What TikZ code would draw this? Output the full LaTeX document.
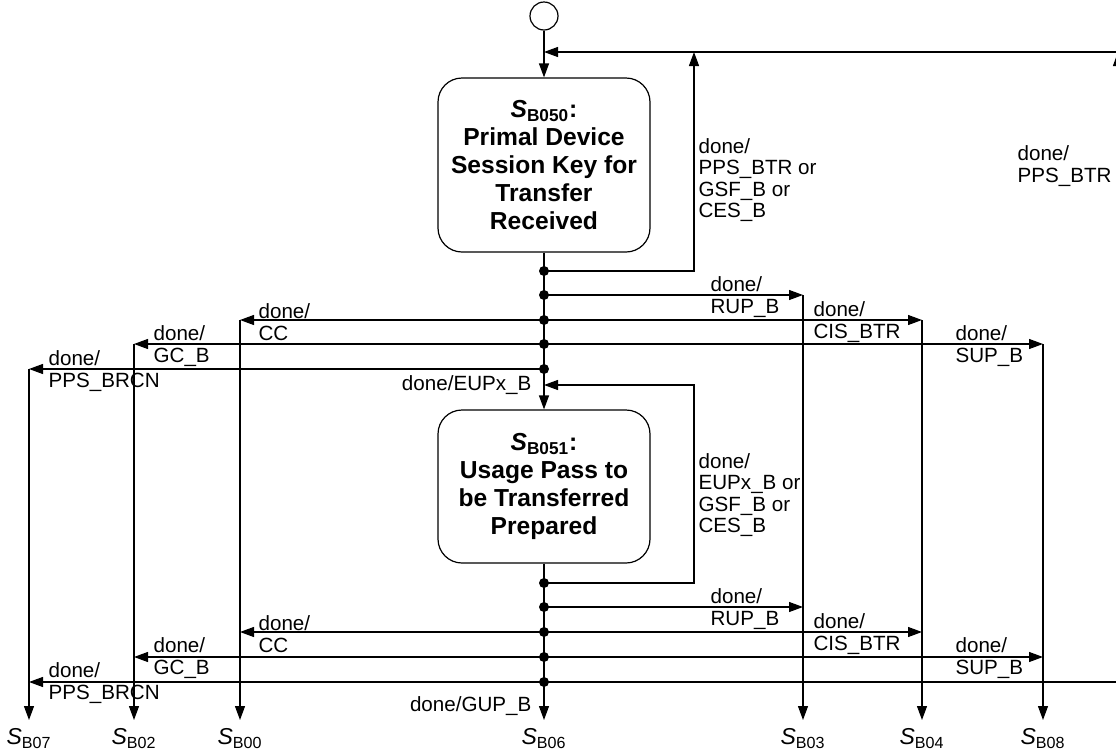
\documentclass[tikz,border=0pt]{standalone}
\usepackage{fontspec}
\setmainfont{Liberation Sans}
\usetikzlibrary{arrows.meta}

\newcommand{\sname}[1]{{\fontsize{11.5}{12}\selectfont\textit{S}\textsubscript{#1}}}

\begin{document}
\begin{tikzpicture}[x=0.5pt,y=-0.5pt,line width=0.6pt]
\tikzstyle{statebox}=[draw,rounded corners=12pt,minimum width=106pt,align=center,font=\fontsize{12.3}{14}\selectfont\bfseries]
\tikzstyle{lbl}=[align=left,inner sep=0pt,anchor=west,font=\fontsize{10.3}{10.8}\selectfont]
\tikzstyle{target}=[anchor=north,inner sep=4pt]
\tikzstyle{arr}=[-{Triangle[length=7pt,width=5pt]}]
\useasboundingbox (0,0) rectangle (1116,756);

% states
\node[draw,circle,minimum size=14pt,inner sep=0pt] (init) at (544,16) {};
\node[statebox,minimum height=87pt] (box1) at (544,165)
  {\textit{S}\textsubscript{B050}:\\Primal Device\\Session Key for\\Transfer\\Received};
\node[statebox,minimum height=76.5pt] (box2) at (544,486.5)
  {\textit{S}\textsubscript{B051}:\\Usage Pass to\\be Transferred\\Prepared};
\foreach \n/\x in {07/29,02/134,00/240,06/544,03/803,04/922,08/1043}
  \node[target] (s\n) at (\x,720) {\sname{B\n}};

% branch points
\foreach \n/\y in {u1/271,u2/295,u3/320,u4/344,u5/369,l0/583,l1/607,l2/632,l3/657,l4/682}
  \coordinate (\n) at (544,\y);
\coordinate (j1) at (544,52);
\coordinate (j2) at (544,385);
\coordinate (f1) at (694,52);
\coordinate (f2) at (694,385);
\coordinate (r1) at (1118,52);
\coordinate (c07) at (29,369);
\coordinate (c02) at (134,344);
\coordinate (c00) at (240,320);
\coordinate (c03) at (803,295);
\coordinate (c04) at (922,320);
\coordinate (c08) at (1043,344);

% main line
\draw[arr] (init) -- (box1);
\draw[arr] (box1) -- (box2);
\draw[arr] (box2) -- (s06);

% loops back
\draw[arr] (u1) -| (f1);
\draw[arr] (l0) -| (f2) -- (j2);
\draw[arr] (l4) -| (r1);
\draw[arr] (r1) -- (j1);

% exits of S_B050
\draw[arr] (u2) -- (c03);
\draw[arr] (u3) -- (c04);
\draw[arr] (u4) -- (c08);
\draw[arr] (u3) -- (c00);
\draw[arr] (u4) -- (c02);
\draw[arr] (u5) -- (c07);

% exits of S_B051
\draw[arr] (l1) -- (c03 |- l1);
\draw[arr] (l2) -- (c04 |- l2);
\draw[arr] (l3) -- (c08 |- l3);
\draw[arr] (l2) -- (c00 |- l2);
\draw[arr] (l3) -- (c02 |- l3);
\draw[arr] (l4) -- (c07 |- l4);

% down to the targets
\foreach \n in {07,02,00,03,04,08}
  \draw[arr] (c\n) -- (s\n);

\foreach \n in {u1,u2,u3,u4,u5,l0,l1,l2,l3,l4}
  \fill (\n) circle (2.5pt);

% labels
\node[lbl] (t1) at (698,180) {done/\\PPS\_BTR or\\GSF\_B or\\CES\_B};
\node[lbl] (t2) at (1017,166) {done/\\PPS\_BTR};
\node[lbl] (t3) at (698,495) {done/\\EUPx\_B or\\GSF\_B or\\CES\_B};
\node[lbl,anchor=east] (t4) at (532,385) {done/EUPx\_B};
\node[lbl,anchor=east] (t5) at (532,706) {done/GUP\_B};
\foreach \y in {0,312}{
  \node[lbl] at (710,297+\y) {done/\\RUP\_B};
  \node[lbl] at (813,322+\y) {done/\\CIS\_BTR};
  \node[lbl] at (955,346+\y) {done/\\SUP\_B};
  \node[lbl] at (258,322+\y) {done/\\CC};
  \node[lbl] at (153,346+\y) {done/\\GC\_B};
  \node[lbl] at (48,371+\y) {done/\\PPS\_BRCN};
}
\end{tikzpicture}
\end{document}
